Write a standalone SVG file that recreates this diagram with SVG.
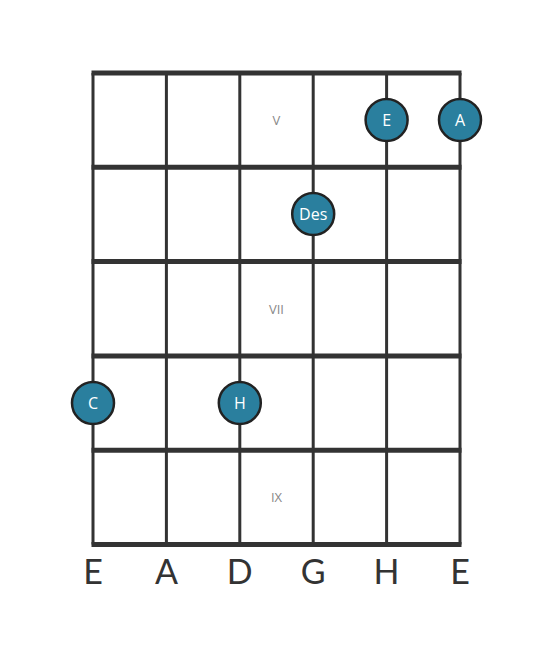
<svg xmlns="http://www.w3.org/2000/svg" width="553" height="656" viewBox="0 0 553 656">
<style>
.fret{stroke:#333;stroke-width:5}
.str{stroke:#333;stroke-width:3}
.dot{fill:#2a7f9e;stroke:#222;stroke-width:2.5}
.dt{font-family:"Open Sans","Noto Sans",sans-serif;font-size:16px;fill:#fff;text-anchor:middle;dominant-baseline:central}
.pos{font-family:"Open Sans","Noto Sans",sans-serif;font-size:13px;fill:#888;text-anchor:middle;dominant-baseline:central}
.sn{font-family:Lato,"Open Sans",sans-serif;font-size:34px;fill:#333;text-anchor:middle}
</style>
<rect width="553" height="656" fill="#fff"/>
<g id="connectors">
<line class="str" x1="93" y1="73" x2="93" y2="544.5"/>
<line class="str" x1="166.4" y1="73" x2="166.4" y2="544.5"/>
<line class="str" x1="239.8" y1="73" x2="239.8" y2="544.5"/>
<line class="str" x1="313.2" y1="73" x2="313.2" y2="544.5"/>
<line class="str" x1="386.6" y1="73" x2="386.6" y2="544.5"/>
<line class="str" x1="460" y1="73" x2="460" y2="544.5"/>
<line class="fret" x1="91.5" y1="73" x2="461.5" y2="73"/>
<line class="fret" x1="91.5" y1="167.3" x2="461.5" y2="167.3"/>
<line class="fret" x1="91.5" y1="261.6" x2="461.5" y2="261.6"/>
<line class="fret" x1="91.5" y1="355.9" x2="461.5" y2="355.9"/>
<line class="fret" x1="91.5" y1="450.2" x2="461.5" y2="450.2"/>
<line class="fret" x1="91.5" y1="544.5" x2="461.5" y2="544.5"/>
</g>
<g id="positions">
<text class="pos" x="276.5" y="120">V</text>
<text class="pos" x="276.5" y="309">VII</text>
<text class="pos" x="276.5" y="497">IX</text>
</g>
<g id="note-E"><circle class="dot" cx="386.6" cy="120" r="21"/><text class="dt" x="386.6" y="120">E</text></g>
<g id="note-A"><circle class="dot" cx="460" cy="120" r="21"/><text class="dt" x="460" y="120">A</text></g>
<g id="note-Des"><circle class="dot" cx="313.2" cy="214" r="21"/><text class="dt" x="313.2" y="214">Des</text></g>
<g id="note-C"><circle class="dot" cx="93" cy="403" r="21"/><text class="dt" x="93" y="403">C</text></g>
<g id="note-H"><circle class="dot" cx="239.8" cy="403" r="21"/><text class="dt" x="239.8" y="403">H</text></g>
<g id="strings">
<text class="sn" x="93" y="584">E</text>
<text class="sn" x="166.4" y="584">A</text>
<text class="sn" x="239.8" y="584">D</text>
<text class="sn" x="313.2" y="584">G</text>
<text class="sn" x="386.6" y="584">H</text>
<text class="sn" x="460" y="584">E</text>
</g>
</svg>
